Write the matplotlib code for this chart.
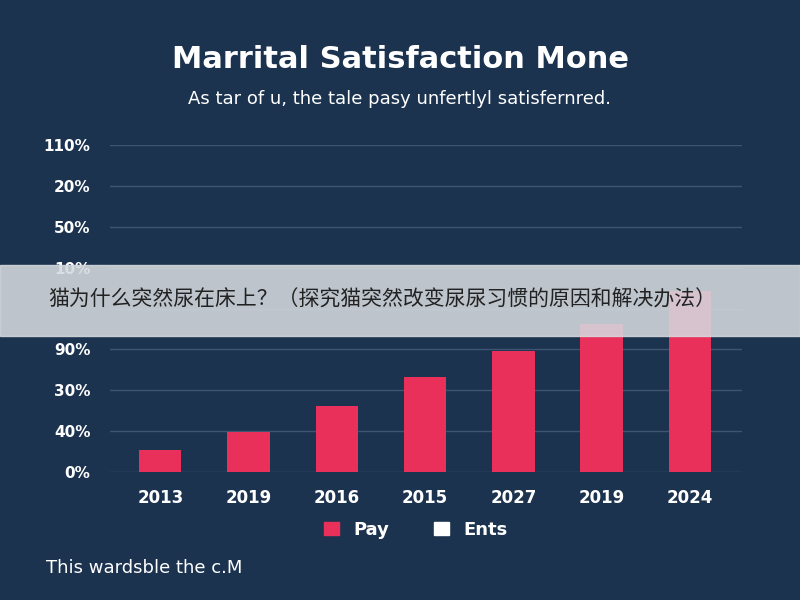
import matplotlib.pyplot as plt
import matplotlib.patches as mpatches

years = ["2013", "2019", "2016", "2015", "2027", "2019", "2024"]
pay = [0.54, 0.98, 1.61, 2.32, 2.95, 3.61, 4.44]
tick_labels = ["0%", "40%", "30%", "90%", "", "10%", "50%", "20%", "110%"]

bg = "#1c3350"
red = "#e8305a"

fig = plt.figure(figsize=(8, 6), dpi=100, facecolor=bg)
ax = fig.add_axes([0.1375, 0.2133, 0.79, 0.545])
ax.set_facecolor(bg)
ax.bar(range(len(years)), pay, width=0.48, color=red, zorder=3)
ax.set_xlim(-0.57, 6.59)
ax.set_ylim(0, 8)
ax.set_yticks(range(len(tick_labels)))
ax.set_yticklabels(tick_labels, color="white", fontsize=11, fontweight="bold")
ax.set_xticks(range(len(years)))
ax.set_xticklabels(years, color="white", fontsize=12, fontweight="bold")
ax.tick_params(length=0, pad=14)
ax.tick_params(axis="x", pad=12)
ax.grid(axis="y", color="#3e5470", lw=1, zorder=0)
for s in ax.spines.values():
    s.set_visible(False)

fig.text(0.5, 0.9, "Marrital Satisfaction Mone", color="white", fontsize=22,
         fontweight="bold", ha="center", va="center")
fig.text(0.5, 0.835, "As tar of u, the tale pasy unfertlyl satisfernred.", color="white",
         fontsize=13, ha="center", va="center")

handles = [mpatches.Patch(color=red, label="Pay"), mpatches.Patch(color="white", label="Ents")]
leg = fig.legend(handles=handles, loc="center", bbox_to_anchor=(0.52, 0.117), ncol=2,
                 frameon=False, handlelength=0.8, handleheight=0.8, columnspacing=2.5,
                 prop={"size": 13, "weight": "bold"})
for t in leg.get_texts():
    t.set_color("white")

fig.text(0.058, 0.053, "This wardsble the c.M", color="white", fontsize=13, va="center")

# banner overlay
fig.patches.append(mpatches.Rectangle((0, 0.44), 1, 0.118, transform=fig.transFigure,
                                      color="#d5d9de", alpha=0.88, zorder=10))
fig.text(0.06, 0.5, "猫为什么突然尿在床上？（探究猫突然改变尿尿习惯的原因和解决办法）",
         family=["Noto Sans CJK SC", "DejaVu Sans"], fontsize=15, color="#222222",
         va="center", zorder=11)

fig.savefig("out.png", facecolor=bg)
